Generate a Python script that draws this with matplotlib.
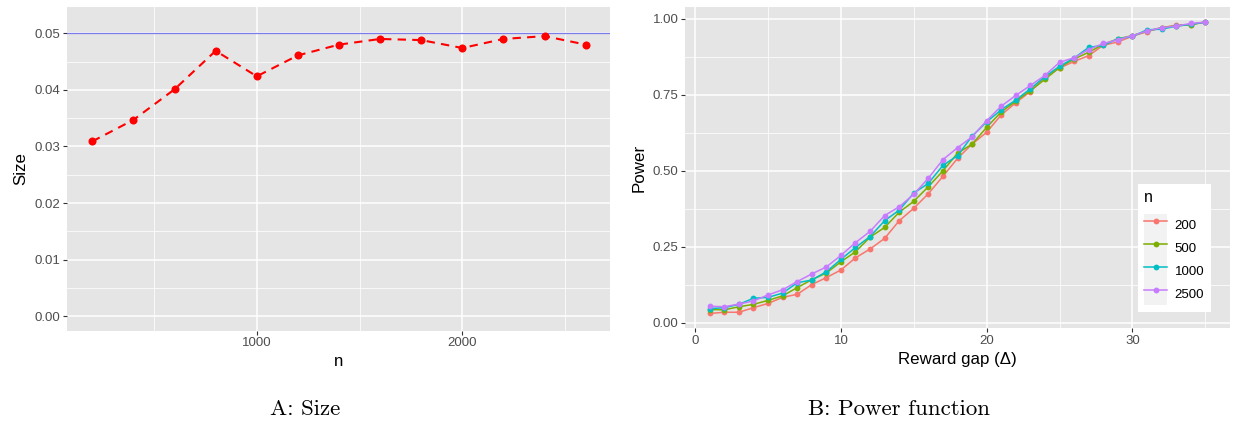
import matplotlib
matplotlib.use('Agg')
import matplotlib.pyplot as plt
from matplotlib.legend_handler import HandlerLine2D
from matplotlib.patches import Rectangle
from matplotlib.ticker import FixedLocator

# ---------------- data ----------------
n_vals = [200, 400, 600, 800, 1000, 1200, 1400, 1600, 1800, 2000, 2200, 2400, 2600]
size_vals = [0.0309, 0.0347, 0.0401, 0.0469, 0.0424, 0.0461, 0.0480,
             0.0490, 0.0488, 0.0474, 0.0490, 0.0495, 0.0480]
alpha_level = 0.05

gap = list(range(1, 36))
power_200 = [0.030, 0.034, 0.034, 0.049, 0.063, 0.083, 0.093, 0.125, 0.148, 0.173,
             0.213, 0.242, 0.277, 0.335, 0.376, 0.424, 0.481, 0.540, 0.587, 0.626,
             0.683, 0.723, 0.760, 0.806, 0.837, 0.859, 0.878, 0.912, 0.923, 0.942,
             0.957, 0.970, 0.978, 0.980, 0.988]
power_500 = [0.043, 0.042, 0.052, 0.060, 0.073, 0.088, 0.115, 0.141, 0.163, 0.200,
             0.233, 0.281, 0.313, 0.363, 0.399, 0.447, 0.499, 0.557, 0.587, 0.642,
             0.693, 0.728, 0.763, 0.800, 0.839, 0.867, 0.889, 0.915, 0.933, 0.944,
             0.958, 0.970, 0.976, 0.980, 0.989]
power_1000 = [0.046, 0.049, 0.060, 0.080, 0.083, 0.097, 0.131, 0.140, 0.167, 0.208,
              0.247, 0.283, 0.335, 0.370, 0.426, 0.458, 0.517, 0.549, 0.613, 0.660,
              0.700, 0.732, 0.769, 0.809, 0.843, 0.870, 0.905, 0.912, 0.933, 0.941,
              0.963, 0.965, 0.975, 0.981, 0.988]
power_2500 = [0.054, 0.052, 0.061, 0.071, 0.091, 0.108, 0.135, 0.160, 0.183, 0.221,
              0.263, 0.300, 0.352, 0.381, 0.422, 0.475, 0.536, 0.575, 0.611, 0.664,
              0.712, 0.747, 0.780, 0.813, 0.856, 0.871, 0.898, 0.918, 0.930, 0.944,
              0.959, 0.970, 0.975, 0.984, 0.988]
series_names = ['200', '500', '1000', '2500']
series_vals = [power_200, power_500, power_1000, power_2500]
series_cols = ['#F8766D', '#7CAE00', '#00BFC4', '#C77CFF']

# ---------------- style ----------------
FONT = ['Liberation Sans', 'DejaVu Sans']
plt.rcParams['font.family'] = FONT
BG = '#E5E5E5'
TICK_FS = 9.5
TITLE_FS = 12.2

W, H = 1241, 423
fig = plt.figure(figsize=(W / 100, H / 100), dpi=100)


def px_axes(x0, y0, x1, y1):
    return fig.add_axes([x0 / W, 1 - y1 / H, (x1 - x0) / W, (y1 - y0) / H])


def style(ax):
    ax.set_facecolor(BG)
    for s in ax.spines.values():
        s.set_visible(False)
    ax.grid(True, which='major', color='white', lw=1.1, zorder=0)
    ax.grid(True, which='minor', color='white', lw=0.55, zorder=0)
    ax.set_axisbelow(True)
    ax.tick_params(which='major', length=2.75, width=0.8, color='#333333',
                   labelsize=TICK_FS, labelcolor='#4D4D4D', pad=2)
    ax.tick_params(which='minor', length=0)


# ---------------- panel A ----------------
axA = px_axes(67, 6.7, 610, 330.7)
style(axA)
axA.axhline(alpha_level, color='#7B7BEA', lw=0.9, zorder=2)
axA.plot(n_vals, size_vals, color='#FF0000', lw=1.5, dashes=(4.0, 3.0),
         marker='o', markersize=5.8, markeredgewidth=0, zorder=3)
axA.set_xlim(77, 2718)
axA.set_ylim(-0.00255, 0.0547)
axA.xaxis.set_major_locator(FixedLocator([1000, 2000]))
axA.xaxis.set_minor_locator(FixedLocator([500, 1500, 2500]))
axA.yaxis.set_major_locator(FixedLocator([0, 0.01, 0.02, 0.03, 0.04, 0.05]))
axA.yaxis.set_minor_locator(FixedLocator([0.005, 0.015, 0.025, 0.035, 0.045]))
axA.set_yticklabels(['0.00', '0.01', '0.02', '0.03', '0.04', '0.05'])
axA.set_xticklabels(['1000', '2000'])
axA.set_xlabel('n', fontsize=TITLE_FS, labelpad=3.5)
axA.set_ylabel('Size', fontsize=TITLE_FS, labelpad=4.5)

# ---------------- panel B ----------------
axB = px_axes(685, 6.7, 1230, 328.3)
style(axB)
for name, vals, col in zip(series_names, series_vals, series_cols):
    axB.plot(gap, vals, color=col, lw=1.1, marker='o', markersize=4.2,
             markeredgewidth=0, label=name, zorder=3)
axB.set_xlim(-0.7, 36.7)
axB.set_ylim(-0.0188, 1.039)
axB.xaxis.set_major_locator(FixedLocator([0, 10, 20, 30]))
axB.xaxis.set_minor_locator(FixedLocator([5, 15, 25, 35]))
axB.yaxis.set_major_locator(FixedLocator([0, 0.25, 0.5, 0.75, 1.0]))
axB.yaxis.set_minor_locator(FixedLocator([0.125, 0.375, 0.625, 0.875]))
axB.set_yticklabels(['0.00', '0.25', '0.50', '0.75', '1.00'])
axB.set_xticklabels(['0', '10', '20', '30'])
axB.set_xlabel('Reward gap (\u0394)', fontsize=TITLE_FS, labelpad=3.5)
axB.set_ylabel('Power', fontsize=TITLE_FS, labelpad=4.5)


class KeyBG(HandlerLine2D):
    def create_artists(self, legend, orig_handle, xdescent, ydescent,
                       width, height, fontsize, trans):
        arts = super().create_artists(legend, orig_handle, xdescent, ydescent,
                                      width, height, fontsize, trans)
        r = Rectangle((-xdescent, -ydescent), width, height, facecolor='#F2F2F2',
                      edgecolor='none', transform=trans)
        return [r] + list(arts)


handles, labels = axB.get_legend_handles_labels()
leg = axB.legend(handles, labels, title='n', loc='lower right',
                 bbox_to_anchor=(0.965, 0.0507), borderaxespad=0,
                 fontsize=TICK_FS, title_fontsize=11.5, alignment='left',
                 frameon=True, facecolor='white', edgecolor='none', framealpha=1,
                 fancybox=False, labelspacing=0, handleheight=2.3,
                 handlelength=1.7, handletextpad=0.6, borderpad=0.5,
                 numpoints=1, handler_map={matplotlib.lines.Line2D: KeyBG()})
leg._legend_box.sep = 6

# ---------------- captions ----------------
fig.text(305 / W, 1 - 409 / H, 'A: Size', family='cmr10', fontsize=16.5,
         ha='center', va='center')
fig.text(899 / W, 1 - 409 / H, 'B: Power function', family='cmr10', fontsize=16.5,
         ha='center', va='center')

fig.savefig('out.png', dpi=100, facecolor='white')
